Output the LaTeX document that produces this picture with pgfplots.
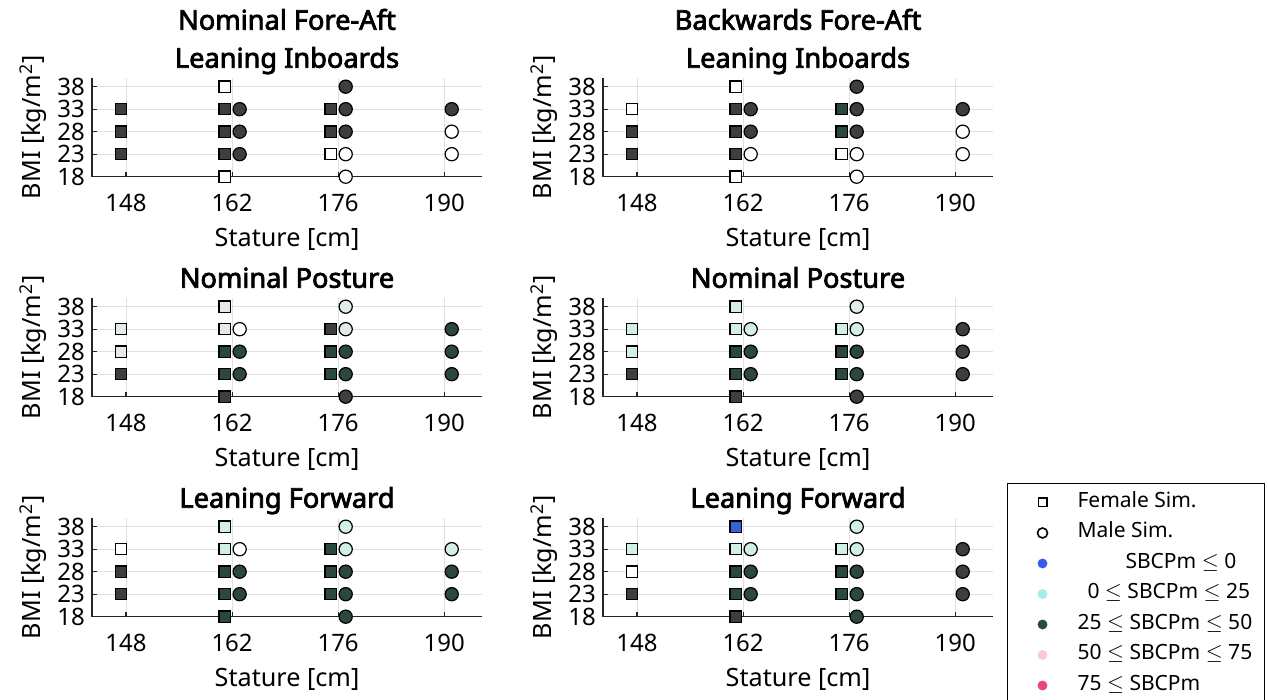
\documentclass[border=0pt]{standalone}
\usepackage{fontspec}
\setmainfont{Noto Sans}
\newfontfamily\titlefont{Noto Sans}[FakeBold=2.8]
\usepackage{pgfplots}
\pgfplotsset{compat=1.18}
\definecolor{cD}{HTML}{3D3F3E}
\definecolor{cG}{HTML}{2C473D}
\definecolor{cL}{HTML}{D3EEE5}
\definecolor{cP}{HTML}{E2EBE7}
\definecolor{cB}{HTML}{3D5FD6}
\definecolor{lgB}{HTML}{3A5CE8}
\definecolor{lgC}{HTML}{A8ECE4}
\definecolor{lgG}{HTML}{264A3C}
\definecolor{lgP}{HTML}{F8CCD6}
\definecolor{lgR}{HTML}{E8457A}
\pgfplotsset{
  panel/.style={
    set layers,
    scale only axis, width=195pt, height=49.5pt,
    xmin=143.5, xmax=195, ymin=18, ymax=40,
    xtick={148,162,176,190}, ytick={18,23,28,33,38},
    axis lines*=left,
    axis line style={line width=0.7pt, black!85},
    grid=major, major grid style={black!12, line width=0.5pt},
    tick align=inside, major tick length=2.5pt,
    tick style={black!85, line width=0.6pt},
    ticklabel style={font=\fontsize{12}{14}\selectfont},
    /pgf/number format/assume math mode=true,
    xticklabel style={yshift=-5pt},
    xlabel={Stature [cm]},
    ylabel={BMI [kg/m\textsuperscript{2}]},
    label style={font=\fontsize{12.6}{14}\selectfont},
    xlabel style={at={(axis description cs:0.5,-0.637)}, anchor=center},
    ylabel style={at={(axis description cs:-0.151,0.5)}, anchor=center},
    title style={font=\titlefont\fontsize{13.6}{19}\selectfont, at={(axis description cs:0.5,1)}, anchor=base, yshift=-1pt, align=center},
    clip=false,
    scatter/classes={
      D={draw=black, fill=cD},
      G={draw=black, fill=cG},
      L={draw=black, fill=cL},
      P={draw=black, fill=cP},
      W={draw=black, fill=white},
      B={draw=black, fill=cB}},
  },
  fem/.style={scatter, only marks, scatter src=explicit symbolic, mark=square*, mark size=2.8pt, mark options={line width=0.6pt}},
  mal/.style={scatter, only marks, scatter src=explicit symbolic, mark=*, mark size=3.3pt, mark options={line width=0.6pt}},
  lgdot/.style={only marks, mark=*, mark size=2.2pt, color=#1, mark options={draw=#1, fill=#1}},
}
\begin{document}
\begin{tikzpicture}
% ---------- Top left
\begin{axis}[panel, at={(46pt,261.65pt)}, anchor=south west,
  title={Nominal Fore-Aft\\Leaning Inboards}]
\addplot[fem] table[meta=c]{
x y c
147.3 33 D
147.3 28 D
147.3 23 D
161 38 W
161 33 D
161 28 D
161 23 D
161 18 W
175 33 D
175 28 D
175 23 W
};
\addplot[mal] table[meta=c]{
x y c
163 33 D
163 28 D
163 23 D
177 38 D
177 33 D
177 28 D
177 23 W
177 18 W
191 33 D
191 28 W
191 23 W
};
\end{axis}
% ---------- Top right
\begin{axis}[panel, at={(301.5pt,261.65pt)}, anchor=south west,
  title={Backwards Fore-Aft\\Leaning Inboards}]
\addplot[fem] table[meta=c]{
x y c
147.3 33 W
147.3 28 D
147.3 23 D
161 38 W
161 33 D
161 28 D
161 23 D
161 18 W
175 33 G
175 28 G
175 23 W
};
\addplot[mal] table[meta=c]{
x y c
163 33 D
163 28 D
163 23 W
177 38 D
177 33 D
177 28 D
177 23 W
177 18 W
191 33 D
191 28 W
191 23 W
};
\end{axis}
% ---------- Middle left
\begin{axis}[panel, at={(46pt,151.65pt)}, anchor=south west,
  title={Nominal Posture}]
\addplot[fem] table[meta=c]{
x y c
147.3 33 P
147.3 28 P
147.3 23 D
161 38 P
161 33 P
161 28 G
161 23 G
161 18 D
175 33 D
175 28 G
175 23 G
};
\addplot[mal] table[meta=c]{
x y c
163 33 W
163 28 G
163 23 G
177 38 P
177 33 P
177 28 G
177 23 G
177 18 D
191 33 G
191 28 G
191 23 G
};
\end{axis}
% ---------- Middle right
\begin{axis}[panel, at={(301.5pt,151.65pt)}, anchor=south west,
  title={Nominal Posture}]
\addplot[fem] table[meta=c]{
x y c
147.3 33 L
147.3 28 L
147.3 23 D
161 38 L
161 33 L
161 28 G
161 23 G
161 18 D
175 33 L
175 28 G
175 23 G
};
\addplot[mal] table[meta=c]{
x y c
163 33 L
163 28 G
163 23 G
177 38 P
177 33 L
177 28 G
177 23 G
177 18 D
191 33 D
191 28 D
191 23 D
};
\end{axis}
% ---------- Bottom left
\begin{axis}[panel, at={(46pt,41.65pt)}, anchor=south west,
  title={Leaning Forward}]
\addplot[fem] table[meta=c]{
x y c
147.3 33 W
147.3 28 D
147.3 23 D
161 38 L
161 33 L
161 28 G
161 23 G
161 18 G
175 33 G
175 28 G
175 23 G
};
\addplot[mal] table[meta=c]{
x y c
163 33 W
163 28 G
163 23 G
177 38 L
177 33 L
177 28 G
177 23 G
177 18 G
191 33 L
191 28 G
191 23 G
};
\end{axis}
% ---------- Bottom right
\begin{axis}[panel, at={(301.5pt,41.65pt)}, anchor=south west,
  title={Leaning Forward},
  legend style={at={(axis description cs:1.0359,1.3505)}, anchor=north west,
    draw=black, line width=0.5pt, fill=white,
    font=\fontsize{10.5}{12}\selectfont,
    inner xsep=6pt, inner ysep=5pt, row sep=6.25pt, column sep=5pt,
    nodes={inner sep=0pt, text height=7pt, text depth=2pt, anchor=west}},
  legend image code/.code={\pgfpathrectangle{\pgfpoint{0pt}{-1pt}}{\pgfpoint{24pt}{2pt}}\pgfusepath{}\draw[#1] plot coordinates {(11.5pt,0pt)};},
  legend cell align=left]
\addlegendimage{only marks, mark=square, mark size=2.1pt, black, mark options={line width=0.8pt}}
\addlegendentry{Female Sim.}
\addlegendimage{only marks, mark=o, mark size=2.5pt, black, mark options={line width=0.8pt}}
\addlegendentry{Male Sim.}
\addlegendimage{lgdot=lgB}
\addlegendentry{\hspace*{24pt}SBCPm $\leq$ 0}
\addlegendimage{lgdot=lgC}
\addlegendentry{\hspace*{5pt}0 $\leq$ SBCPm $\leq$ 25}
\addlegendimage{lgdot=lgG}
\addlegendentry{25 $\leq$ SBCPm $\leq$ 50}
\addlegendimage{lgdot=lgP}
\addlegendentry{50 $\leq$ SBCPm $\leq$ 75}
\addlegendimage{lgdot=lgR}
\addlegendentry{75 $\leq$ SBCPm}
\addplot[fem, forget plot] table[meta=c]{
x y c
147.3 33 L
147.3 28 W
147.3 23 D
161 38 B
161 33 L
161 28 G
161 23 G
161 18 D
175 33 L
175 28 G
175 23 G
};
\addplot[mal, forget plot] table[meta=c]{
x y c
163 33 L
163 28 G
163 23 G
177 38 L
177 33 L
177 28 G
177 23 G
177 18 G
191 33 D
191 28 D
191 23 D
};
\end{axis}
\pgfresetboundingbox
\useasboundingbox (0,0) rectangle (634pt,350pt);
\end{tikzpicture}
\end{document}
